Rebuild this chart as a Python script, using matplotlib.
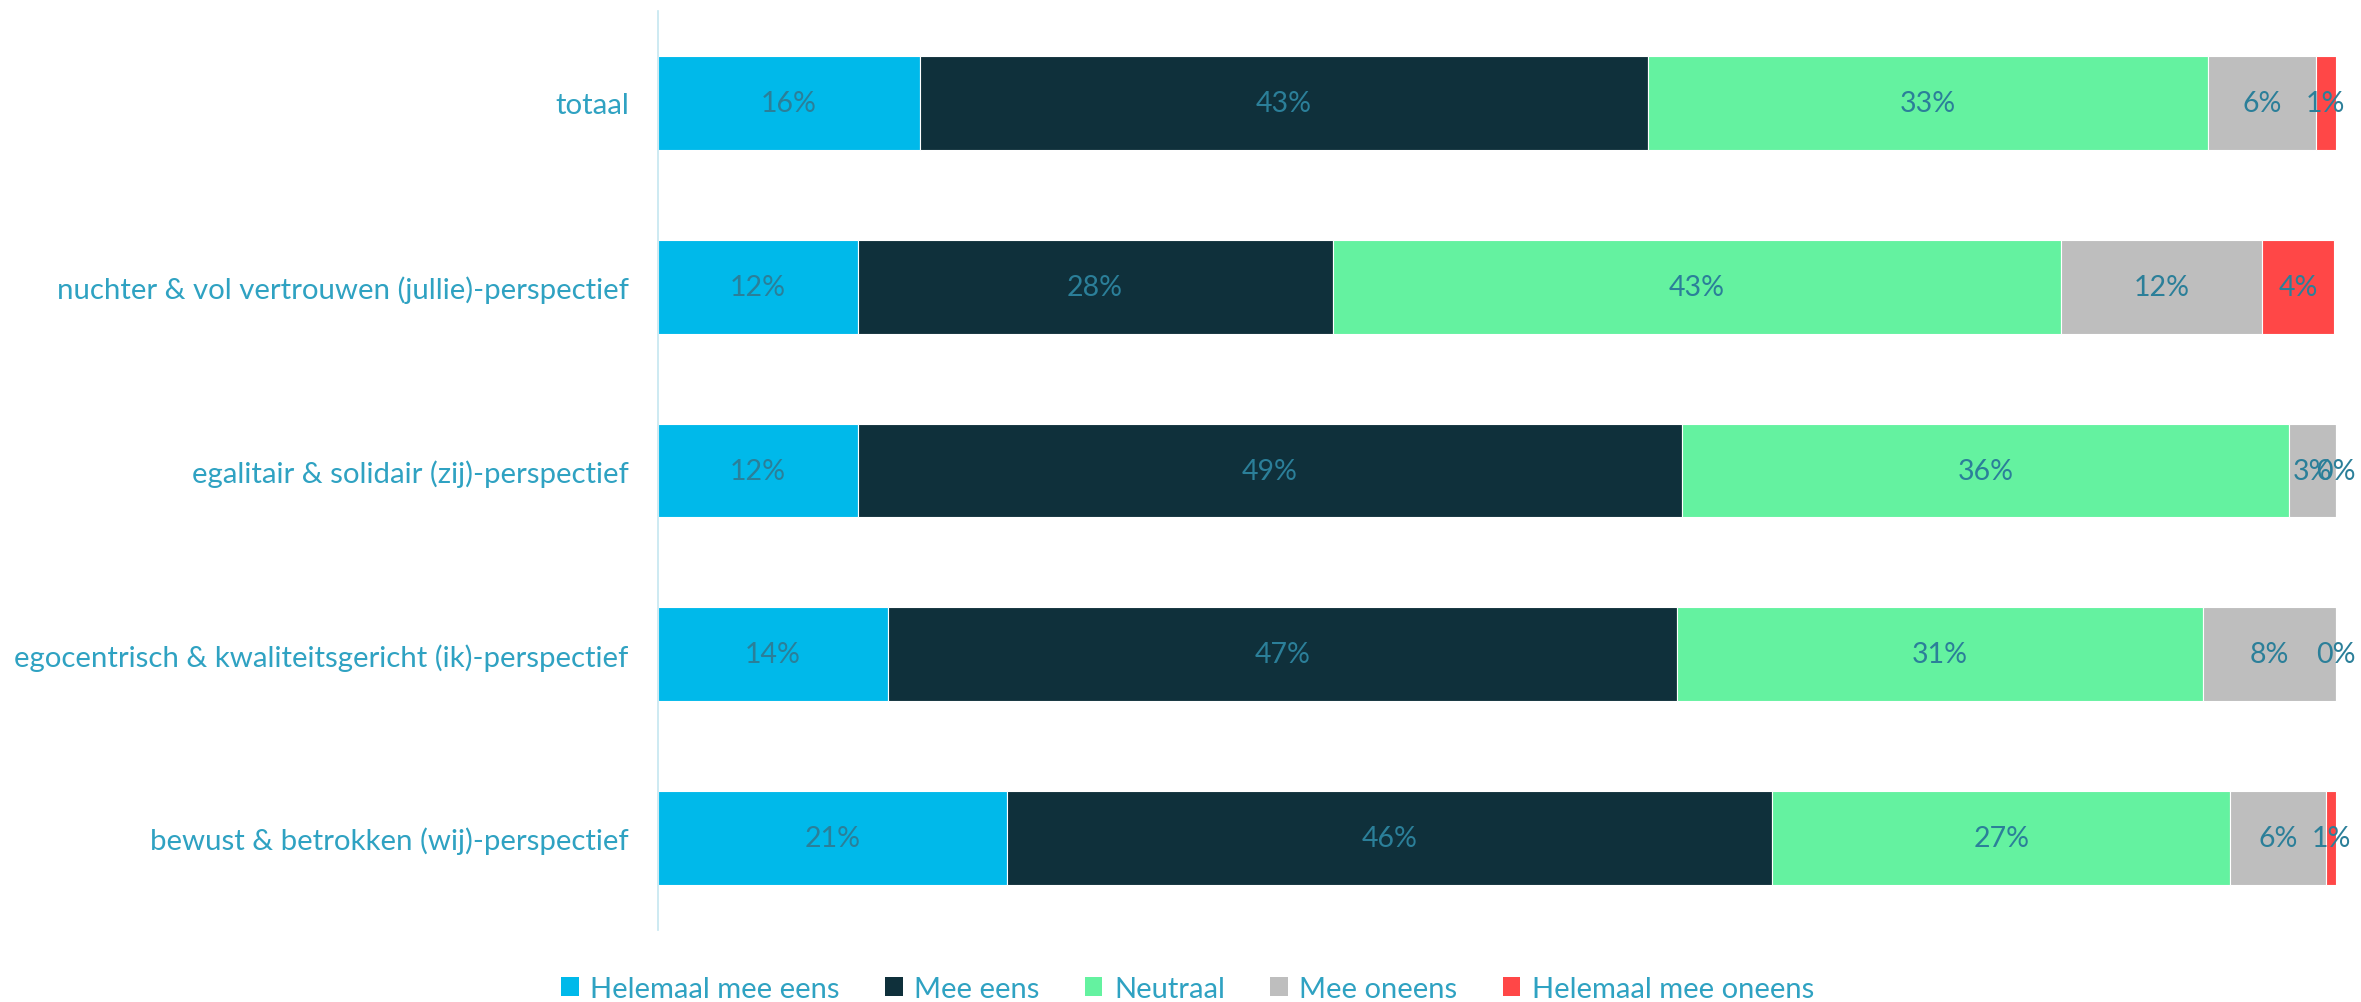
import matplotlib
matplotlib.use("Agg")
import matplotlib.pyplot as plt
from matplotlib.patches import Patch

categories = [
    "totaal",
    "nuchter & vol vertrouwen (jullie)-perspectief",
    "egalitair & solidair (zij)-perspectief",
    "egocentrisch & kwaliteitsgericht (ik)-perspectief",
    "bewust & betrokken (wij)-perspectief",
]
series_names = ["Helemaal mee eens", "Mee eens", "Neutraal", "Mee oneens", "Helemaal mee oneens"]
helemaal_eens = [15.6, 11.9, 11.9, 13.7, 20.8]
mee_eens = [43.4, 28.3, 49.1, 47.0, 45.6]
neutraal = [33.4, 43.4, 36.2, 31.4, 27.3]
mee_oneens = [6.4, 12.0, 2.8, 7.9, 5.7]
helemaal_oneens = [1.2, 4.3, 0.0, 0.0, 0.6]

colors = ["#00B9EA", "#0F303B", "#64F2A0", "#BEBEBE", "#FF4747"]
label_color = "#2B7F99"
tick_color = "#2FA2C2"
font = ["Lato", "DejaVu Sans"]

fig = plt.figure(figsize=(23.61, 10.03), dpi=100)
ax = fig.add_axes([0.2787, 0.0718, 0.7107, 0.9162])

series = [helemaal_eens, mee_eens, neutraal, mee_oneens, helemaal_oneens]
ypos = list(range(len(categories)))
left = [0.0] * len(categories)
for name, vals, col in zip(series_names, series, colors):
    bars = ax.barh(ypos, vals, left=left, height=0.51, color=col,
                   edgecolor="white", linewidth=0.8, label=name)
    ax.bar_label(bars, labels=[f"{v:.0f}%" for v in vals], label_type="center",
                 color=label_color, fontsize=20.5, family=font)
    left = [l + v for l, v in zip(left, vals)]

ax.set_xlim(0, 100)
ax.set_ylim(len(categories) - 0.5, -0.5)
ax.set_yticks(ypos)
ax.set_yticklabels(categories, color=tick_color, fontsize=21.2, family=font)
ax.tick_params(axis="y", length=0, pad=21)
ax.set_xticks([])
for s in ["top", "right", "bottom"]:
    ax.spines[s].set_visible(False)
ax.spines["left"].set_color("#C5E6F0")
ax.spines["left"].set_linewidth(1.2)

handles = [Patch(facecolor=c, edgecolor="none") for c in colors]
leg = fig.legend(handles, series_names, loc="center", bbox_to_anchor=(0.503, 0.013),
                 ncol=5, frameon=False, handlelength=0.6, handleheight=0.6,
                 handletextpad=0.4, columnspacing=1.55,
                 prop={"family": font, "size": 21})
for t in leg.get_texts():
    t.set_color(tick_color)

fig.savefig("out.png", dpi=100, facecolor="white")
